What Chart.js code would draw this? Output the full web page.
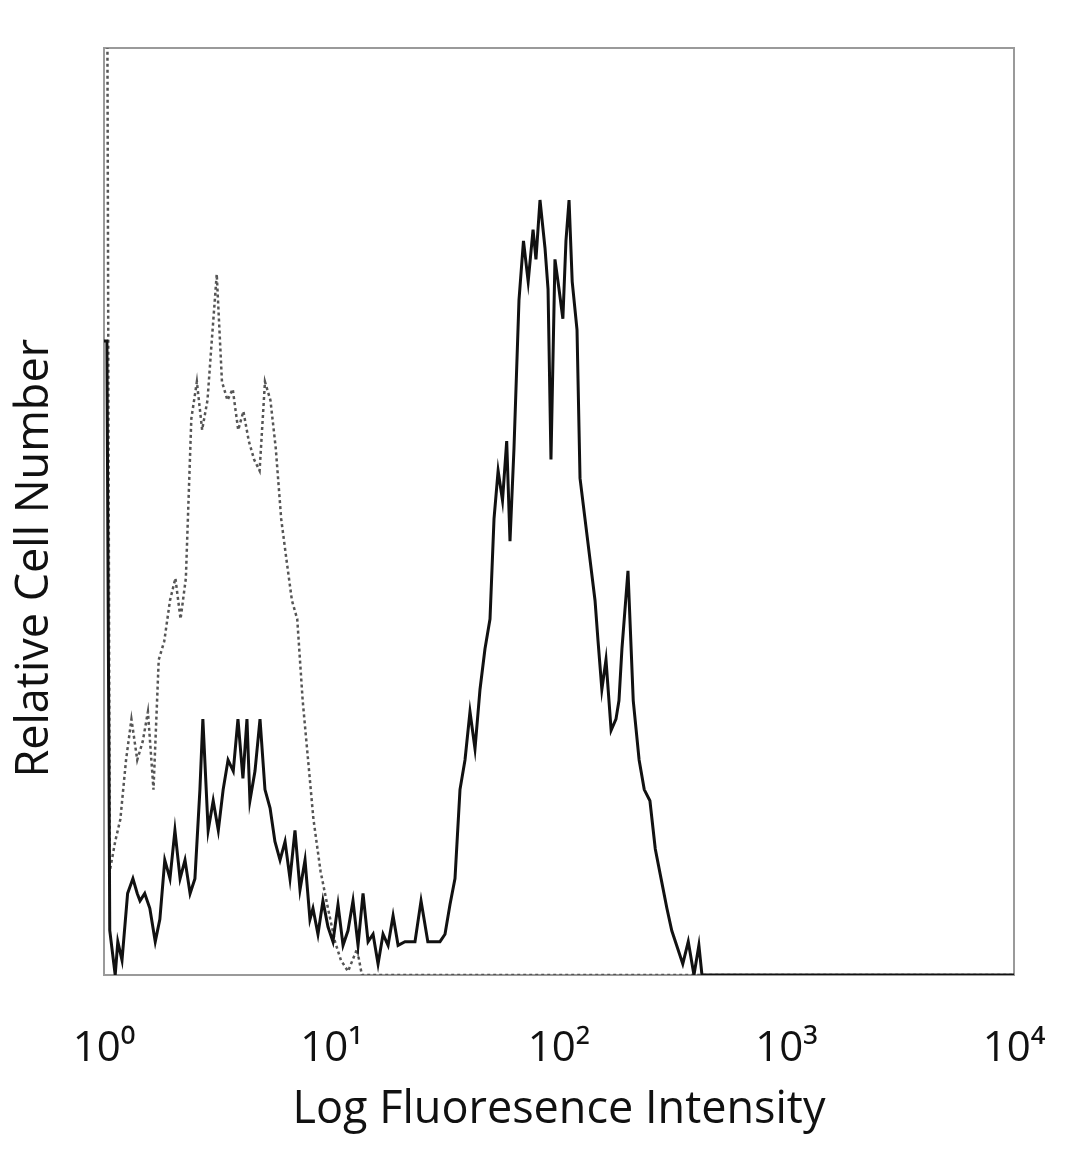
<!DOCTYPE html>
<html>
<head>
<meta charset="utf-8">
<script src="https://cdn.jsdelivr.net/npm/chart.js@4.4.1/dist/chart.umd.min.js"></script>
<style>
  html, body { margin: 0; padding: 0; background: #fff; }
  #wrap { width: 1080px; height: 1169px; position: relative; }
</style>
</head>
<body>
<div id="wrap"><canvas id="chart"></canvas></div>
<script>
// stained sample (solid line): fluorescence intensity vs. cell count
var stainedX = [1, 1.03, 1.06, 1.12, 1.15, 1.20, 1.27, 1.34, 1.40, 1.44, 1.51, 1.59, 1.68, 1.76, 1.85,
  1.95, 2.05, 2.16, 2.27, 2.39, 2.51, 2.64, 2.72, 2.87, 3.02, 3.18, 3.34, 3.51, 3.70, 3.88,
  4.08, 4.25, 4.38, 4.61, 4.85, 5.10, 5.37, 5.64, 5.94, 6.25, 6.57, 6.91, 7.27, 7.65, 8.04,
  8.29, 8.72, 9.17, 9.65, 10.15, 10.68, 11.24, 11.82, 12.43, 13.08, 13.76, 14.48, 15.23, 16.02,
  16.85, 17.73, 18.65, 19.62, 21.04, 23.28, 24.75, 26.51, 29.98, 31.54, 33.18, 34.90, 36.71,
  38.62, 40.62, 42.73, 44.95, 47.28, 49.74, 51.80, 54.00, 56.45, 58.90, 60.90, 63.40, 66.70,
  69.80, 73.20, 76.90, 79.20, 82.50, 86.80, 89.50, 92.20, 96.00, 100.0, 104.0, 107.3, 110.7,
  114.3, 120.0, 123.7, 130.1, 136.9, 144.0, 148.5, 154.3, 160.9, 169.5, 178.0, 183.5, 189.1,
  201.0, 212.0, 225.0, 237.0, 251.0, 265.0, 281.0, 298.0, 313.0, 333.0, 350.0, 370.0, 392.0,
  412.0, 425.0, 10000];
var stainedY = [171, 171, 12, 0, 9, 4, 22, 26, 22, 20, 22, 18, 9, 15, 31,
  26, 39, 26, 31, 22, 26, 50, 69, 39, 47, 39, 50, 58, 55, 69,
  53, 69, 47, 55, 69, 50, 45, 36, 31, 36, 26, 39, 23, 31, 15,
  18, 11, 20, 13, 9, 19, 8, 12, 20, 8, 22, 9, 11, 3,
  11, 8, 16, 8, 9, 9, 20, 9, 9, 11, 19, 26, 50,
  58, 71, 61, 77, 88, 96, 123, 136, 128, 144, 117, 142, 182,
  198, 187, 201, 193, 209, 196, 185, 139, 193, 185, 177, 198, 209,
  187, 174, 134, 123, 112, 101, 90, 77, 85, 66, 69, 74, 88,
  109, 74, 58, 50, 47, 34, 26, 18, 12, 7, 3, 9, 0,
  8, 0, 0];

// isotype control (dotted line); the first bin runs off the top of the plot
var controlX = [1, 1.03, 1.06, 1.12, 1.18, 1.25, 1.32, 1.40, 1.48, 1.56, 1.65, 1.74, 1.84, 1.95,
  2.06, 2.17, 2.29, 2.42, 2.56, 2.70, 2.85, 2.96, 3.13, 3.30, 3.49, 3.68, 3.89, 4.10,
  4.33, 4.57, 4.83, 5.10, 5.39, 5.69, 6.01, 6.34, 6.70, 7.07, 7.47, 7.89, 8.33, 8.95,
  9.65, 10.36, 11.0, 11.82, 12.95, 13.6, 10000];
var controlY = [300, 300, 28, 36, 42, 58, 69, 58, 63, 71, 50, 85, 90, 101,
  107, 96, 107, 150, 160, 147, 155, 169, 189, 160, 155, 158, 147, 152,
  144, 139, 136, 160, 155, 142, 123, 112, 101, 96, 74, 58, 42, 28,
  18, 9, 4, 1, 7, 0, 0];

var yMax = 250;
var xTicks = [1, 10, 100, 1000, 10000];
var xTickLabels = ['10\u2070', '10\u00b9', '10\u00b2', '10\u00b3', '10\u2074'];

function toPoints(xs, ys) {
  return xs.map(function (x, i) { return { x: x, y: ys[i] }; });
}

var frame = {
  id: 'frame',
  beforeDatasetsDraw: function (chart) {
    var a = chart.chartArea, c = chart.ctx;
    c.save();
    c.strokeStyle = '#9a9a9a';
    c.lineWidth = 2;
    c.strokeRect(a.left, a.top, a.right - a.left, a.bottom - a.top);
    c.restore();
  }
};

var FONT = '"Open Sans", "DejaVu Sans", sans-serif';
// trailing blanks push the rotated y title a little below the plot's middle, as in the original
var yTitle = 'Relative Cell Number' + '\u00a0\u00a0\u00a0\u00a0\u00a0\u00a0\u00a0\u00a0';

new Chart(document.getElementById('chart').getContext('2d'), {
  type: 'line',
  data: {
    datasets: [
      {
        label: 'Stained',
        data: toPoints(stainedX, stainedY),
        borderColor: '#111',
        borderWidth: 3,
        pointRadius: 0,
        tension: 0,
        fill: false,
        order: 0
      },
      {
        label: 'Isotype control',
        data: toPoints(controlX, controlY),
        borderColor: '#555',
        borderWidth: 2.5,
        borderDash: [3, 3],
        pointRadius: 0,
        tension: 0,
        fill: false,
        order: 1
      }
    ]
  },
  options: {
    responsive: true,
    maintainAspectRatio: false,
    animation: false,
    events: [],
    layout: { padding: { top: 48, right: 66, bottom: 0, left: 0 } },
    plugins: { legend: { display: false }, tooltip: { enabled: false } },
    scales: {
      x: {
        type: 'logarithmic',
        min: 1,
        max: 10000,
        border: { display: false },
        grid: { display: false, drawTicks: false },
        afterBuildTicks: function (scale) {
          scale.ticks = xTicks.map(function (v) { return { value: v }; });
        },
        ticks: {
          autoSkip: false,
          maxRotation: 0,
          padding: 30,
          color: '#111',
          font: { family: FONT, size: 42, lineHeight: 2.095 },
          callback: function (value) {
            var i = xTicks.indexOf(value);
            return i >= 0 ? xTickLabels[i] : '';
          }
        },
        title: {
          display: true,
          text: 'Log Fluoresence Intensity',
          color: '#111',
          font: { family: FONT, size: 45 },
          padding: { top: -40, bottom: 32 }
        }
      },
      y: {
        min: 0,
        max: yMax,
        border: { display: false },
        grid: { display: false, drawTicks: false },
        ticks: { display: false },
        title: {
          display: true,
          text: yTitle,
          color: '#111',
          font: { family: FONT, size: 45 },
          padding: { top: 8, bottom: 42 }
        }
      }
    }
  },
  plugins: [frame]
});
</script>
</body>
</html>
